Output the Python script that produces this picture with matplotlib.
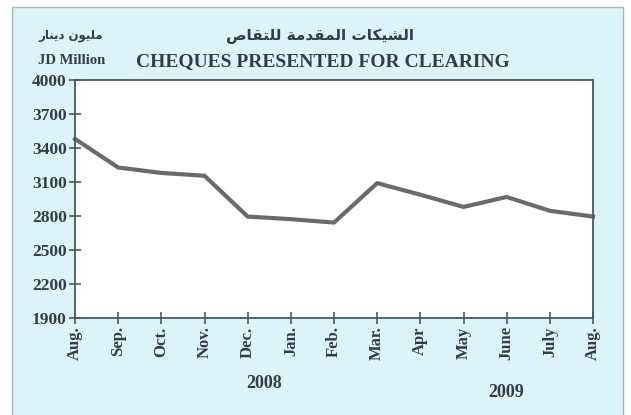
import numpy as np
import matplotlib.pyplot as plt
from matplotlib.patches import Rectangle

# data (JD million)
months = ['Aug.', 'Sep.', 'Oct.', 'Nov.', 'Dec.', 'Jan.', 'Feb.', 'Mar.',
          'Apr', 'May', 'June', 'July', 'Aug.']
values = [3480, 3228, 3180, 3155, 2795, 2772, 2742, 3090,
          2988, 2880, 2968, 2846, 2795]
yticks = [1900, 2200, 2500, 2800, 3100, 3400, 3700, 4000]

title_ar = 'الشيكات المقدمة للتقاص'
title_en = 'CHEQUES PRESENTED FOR CLEARING'
unit_ar = 'مليون دينار'
unit_en = 'JD Million'
years = ['2008', '2009']

# simple arabic shaping (matplotlib has no text shaping of its own)
forms = {
    'ا': (0xFE8D, 0xFE8E, None, None), 'ت': (0xFE95, 0xFE96, 0xFE97, 0xFE98),
    'ة': (0xFE93, 0xFE94, None, None), 'د': (0xFEA9, 0xFEAA, None, None),
    'ر': (0xFEAD, 0xFEAE, None, None), 'ش': (0xFEB5, 0xFEB6, 0xFEB7, 0xFEB8),
    'ص': (0xFEB9, 0xFEBA, 0xFEBB, 0xFEBC), 'ق': (0xFED5, 0xFED6, 0xFED7, 0xFED8),
    'ك': (0xFED9, 0xFEDA, 0xFEDB, 0xFEDC), 'ل': (0xFEDD, 0xFEDE, 0xFEDF, 0xFEE0),
    'م': (0xFEE1, 0xFEE2, 0xFEE3, 0xFEE4), 'ن': (0xFEE5, 0xFEE6, 0xFEE7, 0xFEE8),
    'و': (0xFEED, 0xFEEE, None, None), 'ي': (0xFEF1, 0xFEF2, 0xFEF3, 0xFEF4),
}

def shape(s):
    out = []
    for i, c in enumerate(s):
        if c not in forms:
            out.append(c)
            continue
        prev = s[i-1] if i > 0 else ' '
        nxt = s[i+1] if i < len(s)-1 else ' '
        jp = prev in forms and forms[prev][2] is not None
        jn = forms[c][2] is not None and nxt in forms
        if jp and jn:
            k = 3
        elif jp:
            k = 1
        elif jn:
            k = 2
        else:
            k = 0
        out.append(chr(forms[c][k]))
    return ''.join(out)[::-1]

bg = '#dbf4f8'
txt = '#343c46'
serif = ['Liberation Serif', 'DejaVu Serif']

fig = plt.figure(figsize=(6.31, 4.15), dpi=100)
fig.patch.set_facecolor('white')
fig.patches.append(Rectangle((12/631, -0.01), (623-12)/631, 1 - 7/415 + 0.01,
                             transform=fig.transFigure, facecolor=bg,
                             edgecolor='#a9b5b9', linewidth=1.0, zorder=-10))

ax = fig.add_axes([75/631, 1 - 318/415, (593-75)/631, 238/415])
ax.set_facecolor('white')
x = np.arange(len(months))
ax.plot(x, values, color='#6a6a6a', linewidth=3.0, solid_joinstyle='round',
        clip_on=False)

ax.set_xlim(0, len(months) - 1)
ax.set_ylim(1900, 4000)
ax.set_yticks(yticks)
ax.set_yticklabels([str(v) for v in yticks], fontfamily=serif,
                   fontweight='bold', fontsize=12.5, color=txt)
ax.set_xticks(x)
ax.set_xticklabels(months, rotation=90, fontfamily=serif,
                   fontweight='bold', fontsize=12, color=txt)
ax.tick_params(direction='inout', length=8, width=1.2, color='#4a5860', pad=2)
for sp in ax.spines.values():
    sp.set_color('#4a5860')
    sp.set_linewidth(1.3)

fig.text(320/631, 1 - 36/415, shape(title_ar), ha='center', va='center',
         fontsize=11, fontweight='bold', color=txt, family=['DejaVu Sans'])
fig.text(323/631, 1 - 62/415, title_en, ha='center', va='center',
         fontsize=14, fontweight='bold', color=txt, family=serif)
fig.text(71/631, 1 - 36/415, shape(unit_ar), ha='center', va='center',
         fontsize=8.5, fontweight='bold', color=txt, family=['DejaVu Sans'])
fig.text(72/631, 1 - 61/415, unit_en, ha='center', va='center',
         fontsize=10.5, fontweight='bold', color=txt, family=serif)
fig.text(264/631, 1 - 383/415, years[0], ha='center', va='center',
         fontsize=13, fontweight='bold', color=txt, family=serif)
fig.text(506/631, 1 - 392/415, years[1], ha='center', va='center',
         fontsize=13, fontweight='bold', color=txt, family=serif)

fig.savefig('out.png', dpi=100)
